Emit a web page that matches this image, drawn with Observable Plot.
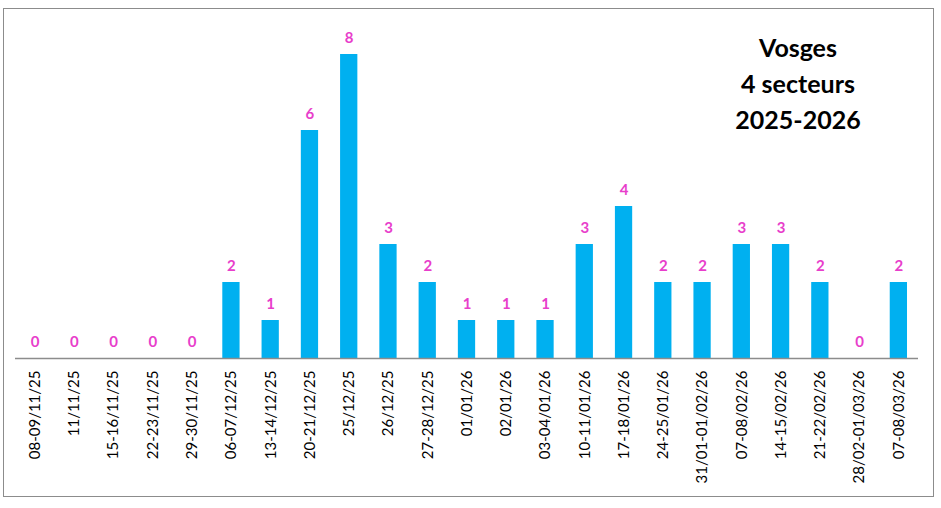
<!DOCTYPE html>
<html>
<head>
<meta charset="utf-8">
<script src="https://cdn.jsdelivr.net/npm/d3@7"></script>
<script src="https://cdn.jsdelivr.net/npm/@observablehq/plot@0.6"></script>
<style>
  html, body { margin: 0; padding: 0; background: #fff; }
  #wrap { position: relative; width: 941px; height: 508px; overflow: hidden; }
  #frame { position: absolute; left: 3px; top: 8px; width: 929px; height: 487px; border: 1px solid #8c8c8c; }
  #chart { position: absolute; left: 0; top: 0; }
  #title { position: absolute; left: 698px; top: 29px; width: 200px; text-align: center;
           font-family: Lato, sans-serif; font-weight: bold; font-size: 25px; line-height: 36px; color: #000; }
</style>
</head>
<body>
<div id="wrap">
  <div id="frame"></div>
  <div id="chart"></div>
  <div id="title">Vosges<br>4 secteurs<br>2025-2026</div>
</div>
<script>
const dates = ["08-09/11/25","11/11/25","15-16/11/25","22-23/11/25","29-30/11/25","06-07/12/25","13-14/12/25","20-21/12/25","25/12/25","26/12/25","27-28/12/25","01/01/26","02/01/26","03-04/01/26","10-11/01/26","17-18/01/26","24-25/01/26","31/01-01/02/26","07-08/02/26","14-15/02/26","21-22/02/26","28/02-01/03/26","07-08/03/26"];
const counts = [0,0,0,0,0,2,1,6,8,3,2,1,1,1,3,4,2,2,3,3,2,0,2];

const data = dates.map((d, i) => ({date: d, n: counts[i]}));

const chart = Plot.plot({
  width: 941,
  height: 508,
  marginLeft: 15,
  marginRight: 23,
  marginTop: 54,
  marginBottom: 150,
  style: {fontFamily: "Lato, sans-serif", background: "transparent", overflow: "visible"},
  x: {domain: dates, paddingInner: 0.56, paddingOuter: 0.28, round: false, label: null},
  y: {domain: [0, 8], axis: null},
  marks: [
    Plot.barY(data, {x: "date", y: "n", fill: "#00B0F0"}),
    Plot.ruleY([0], {stroke: "#8c8c8c", strokeWidth: 1.5}),
    Plot.text(data, {x: "date", y: "n", text: d => String(d.n), dy: -16, fill: "#E83ECB",
      fontWeight: "bold", fontSize: 15}),
    Plot.axisX({tickRotate: -90, tickSize: 0, tickPadding: 12, fontSize: 15, fill: "#000", label: null})
  ]
});
document.getElementById("chart").appendChild(chart);
</script>
</body>
</html>
